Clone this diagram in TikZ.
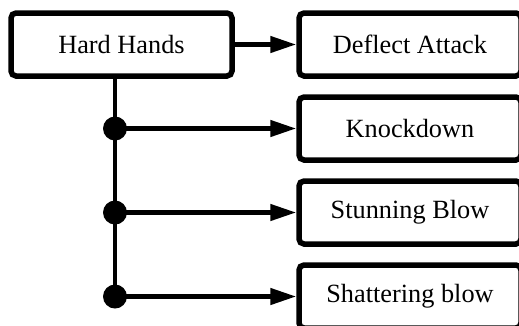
\documentclass[tikz,border=0pt]{standalone}
\usepackage{fontspec}
\setmainfont{Liberation Serif}
\usetikzlibrary{arrows.meta}
\begin{document}
\begin{tikzpicture}[x=1pt,y=-1pt,
  box/.style={draw, line width=5.5pt, rounded corners=5pt, minimum width=221pt, minimum height=63pt, inner sep=0pt, fill=white, font=\fontsize{26.3}{30}\selectfont},
  conn/.style={line width=4.5pt},
  arr/.style={conn, -{Triangle[length=26pt,width=16pt]}},
  dotnode/.style={circle, fill=black, draw=none, minimum size=24pt, inner sep=0pt}]
\useasboundingbox (0,0) rectangle (519,325);
\node[box] (hh) at (121.5,44.5) {Hard Hands};
\node[box, minimum width=222pt] (da) at (410,44.5) {Deflect Attack};
\node[box, minimum width=222pt] (kd) at (410,128.5) {Knockdown};
\node[box, minimum width=222pt] (sb) at (410,212.5) {Stunning Blow};
\node[box, minimum width=222pt] (sh) at (410,296.5) {Shattering blow};
\coordinate (d1) at (115,128.5);
\coordinate (d2) at (115,212.5);
\coordinate (d3) at (115,296.5);
\draw[conn] (hh.south -| d1) -- (d3);
\draw[arr] (hh.east) -- (da.west);
\draw[arr] (d1) -- (kd.west);
\draw[arr] (d2) -- (sb.west);
\draw[arr] (d3) -- (sh.west);
\node[dotnode] (n1) at (d1) {};
\node[dotnode] (n2) at (d2) {};
\node[dotnode] (n3) at (d3) {};
\end{tikzpicture}
\end{document}
